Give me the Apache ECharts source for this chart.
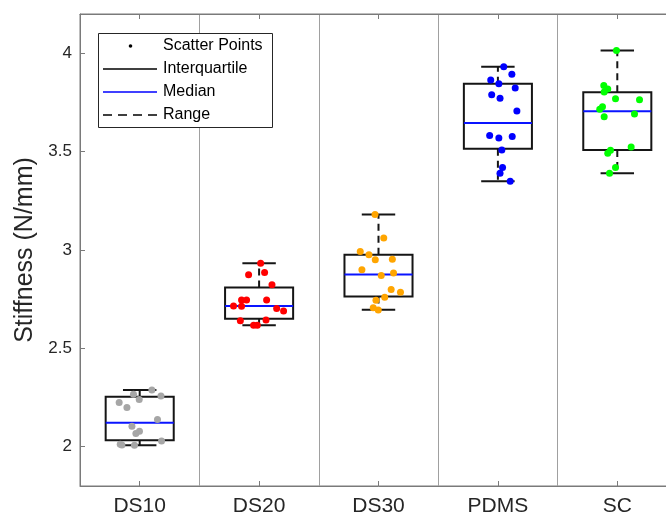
<!DOCTYPE html>
<html>
<head>
<meta charset="utf-8">
<script src="https://cdn.jsdelivr.net/npm/echarts@6/dist/echarts.min.js"></script>
<style>html,body{margin:0;padding:0;background:#fff;overflow:hidden}#c{width:677px;height:525px}</style>
</head>
<body>
<div id="c"></div>
<script>
// ---- data ----
const categories = ['DS10', 'DS20', 'DS30', 'PDMS', 'SC'];
const yTicks = [2, 2.5, 3, 3.5, 4];
// box stats: [min, q1, median, q3, max]
const ds10Stats = [2.007, 2.033, 2.121, 2.254, 2.288];
const ds20Stats = [2.618, 2.651, 2.715, 2.809, 2.933];
const ds30Stats = [2.696, 2.763, 2.876, 2.976, 3.180];
const pdmsStats = [3.350, 3.515, 3.646, 3.845, 3.932];
const scStats   = [3.390, 3.509, 3.705, 3.802, 4.014];
// scatter values
const ds10Values = [2.288, 2.266, 2.257, 2.240, 2.225, 2.199, 2.138, 2.104, 2.079, 2.067, 2.029, 2.012, 2.009, 2.007];
const ds20Values = [2.933, 2.885, 2.874, 2.823, 2.746, 2.746, 2.746, 2.715, 2.714, 2.702, 2.690, 2.640, 2.644, 2.618, 2.618];
const ds30Values = [3.180, 3.061, 2.993, 2.976, 2.950, 2.953, 2.900, 2.883, 2.870, 2.799, 2.785, 2.760, 2.744, 2.706, 2.695];
const pdmsValues = [3.932, 3.894, 3.865, 3.845, 3.824, 3.789, 3.772, 3.707, 3.582, 3.570, 3.577, 3.508, 3.419, 3.390, 3.350];
const scValues   = [4.014, 3.837, 3.819, 3.803, 3.769, 3.764, 3.728, 3.716, 3.691, 3.677, 3.524, 3.507, 3.492, 3.419, 3.390];
// horizontal jitter (in category units)
const ds10Jitter = [0.102, -0.052, 0.178, -0.004, -0.172, -0.107, 0.149, -0.065, -0.002, -0.032, 0.183, -0.163, -0.149, -0.044];
const ds20Jitter = [0.013, 0.046, -0.088, 0.108, -0.147, -0.105, 0.063, -0.214, -0.147, 0.147, 0.205, -0.157, 0.058, -0.046, -0.015];
const ds30Jitter = [-0.029, 0.044, -0.153, -0.080, -0.027, 0.116, -0.139, 0.126, 0.023, 0.106, 0.184, 0.052, -0.021, -0.044, -0.002];
const pdmsJitter = [0.049, 0.117, -0.060, 0.008, 0.145, -0.052, 0.018, 0.159, -0.069, 0.008, 0.120, 0.033, 0.039, 0.018, 0.103];
const scJitter   = [-0.007, -0.113, -0.080, -0.110, -0.015, 0.186, -0.124, -0.147, 0.144, -0.110, 0.116, -0.057, -0.080, -0.015, -0.065];
const legendLabels = ['Scatter Points', 'Interquartile', 'Median', 'Range'];
const yName = 'Stiffness (N/mm)';

// ---- build ----
const allStats = [ds10Stats, ds20Stats, ds30Stats, pdmsStats, scStats];
const allValues = [ds10Values, ds20Values, ds30Values, pdmsValues, scValues];
const allJitter = [ds10Jitter, ds20Jitter, ds30Jitter, pdmsJitter, scJitter];
const pointColors = ['#a6a6a6', '#ff0000', '#ffa500', '#0000ff', '#00ff00'];
const axisColor = '#7a7a7a';
const textColor = '#262626';
const font = 'Liberation Sans, Arial, Helvetica, sans-serif';

const boxData = allStats.map((s, i) => [i].concat(s));

function renderBox(params, api) {
  const i = api.value(0);
  const mn = api.value(1), q1 = api.value(2), md = api.value(3), q3 = api.value(4), mx = api.value(5);
  const unit = api.size([1, 0])[0];
  const bw = unit * 0.57, cw = unit * 0.28;
  const cx = api.coord([i, md])[0];
  const yMn = api.coord([i, mn])[1], yQ1 = api.coord([i, q1])[1], yMd = api.coord([i, md])[1];
  const yQ3 = api.coord([i, q3])[1], yMx = api.coord([i, mx])[1];
  const solid = { stroke: '#151515', lineWidth: 2, fill: null };
  const dashed = { stroke: '#151515', lineWidth: 2, lineDash: [7, 5], fill: null };
  return {
    type: 'group',
    children: [
      { type: 'line', shape: { x1: cx, y1: yQ3, x2: cx, y2: yMx }, style: dashed },
      { type: 'line', shape: { x1: cx, y1: yQ1, x2: cx, y2: yMn }, style: dashed },
      { type: 'line', shape: { x1: cx - cw / 2, y1: yMx, x2: cx + cw / 2, y2: yMx }, style: solid },
      { type: 'line', shape: { x1: cx - cw / 2, y1: yMn, x2: cx + cw / 2, y2: yMn }, style: solid },
      { type: 'rect', shape: { x: cx - bw / 2, y: yQ3, width: bw, height: yQ1 - yQ3 }, style: solid },
      { type: 'line', shape: { x1: cx - bw / 2, y1: yMd, x2: cx + bw / 2, y2: yMd }, style: { stroke: '#0a14ff', lineWidth: 2 } }
    ]
  };
}

const scatterSeries = allValues.map((vals, i) => ({
  type: 'scatter',
  name: categories[i],
  xAxisIndex: 2,
  yAxisIndex: 0,
  symbolSize: 7,
  z: 5,
  itemStyle: { color: pointColors[i], opacity: 1 },
  data: vals.map((v, k) => [i + allJitter[i][k], v])
}));

// legend geometry
const lgX = 98, lgY = 33, lgW = 174, lgH = 94;
const rowY = [46, 69, 92, 115];
const legendGraphic = [
  { type: 'rect', shape: { x: lgX + 0.5, y: lgY + 0.5, width: lgW, height: lgH }, style: { fill: '#fff', stroke: '#262626', lineWidth: 1 }, z: 100 },
  { type: 'circle', shape: { cx: 130.5, cy: rowY[0], r: 1.8 }, style: { fill: '#000' }, z: 101 },
  { type: 'line', shape: { x1: 103, y1: rowY[1], x2: 157, y2: rowY[1] }, style: { stroke: '#000', lineWidth: 1.6 }, z: 101 },
  { type: 'line', shape: { x1: 103, y1: rowY[2], x2: 157, y2: rowY[2] }, style: { stroke: '#0000ff', lineWidth: 1.6 }, z: 101 },
  { type: 'line', shape: { x1: 103, y1: rowY[3], x2: 157, y2: rowY[3] }, style: { stroke: '#000', lineWidth: 1.6, lineDash: [9, 6] }, z: 101 }
].concat(legendLabels.map((t, k) => ({
  type: 'text', x: 163, y: rowY[k], z: 101,
  style: { text: t, fill: '#000', font: '16px ' + font, textVerticalAlign: 'middle', verticalAlign: 'middle' }
})));

const chart = echarts.init(document.getElementById('c'), null, { renderer: 'canvas' });
chart.setOption({
  animation: false,
  backgroundColor: '#ffffff',
  grid: { left: 80, top: 14, right: 0, bottom: 39, containLabel: false, show: true, borderColor: axisColor, borderWidth: 1 },
  xAxis: [
    {
      type: 'category', data: categories, position: 'bottom', boundaryGap: true,
      axisLine: { show: true, onZero: false, lineStyle: { color: axisColor, width: 1 } },
      axisTick: { show: true, inside: true, alignWithLabel: true, length: 5, lineStyle: { color: axisColor } },
      axisLabel: { color: textColor, fontSize: 21, fontFamily: font, margin: 10 },
      splitLine: { show: true, lineStyle: { color: '#a0a0a0', width: 1 } }
    },
    {
      type: 'category', data: categories, position: 'top', boundaryGap: true,
      axisLine: { show: true, onZero: false, lineStyle: { color: axisColor, width: 1 } },
      axisTick: { show: true, inside: true, alignWithLabel: true, length: 5, lineStyle: { color: axisColor } },
      axisLabel: { show: false },
      splitLine: { show: false }
    },
    {
      type: 'value', min: -0.5, max: 4.5, show: false, position: 'bottom',
      axisLine: { show: false, onZero: false }, splitLine: { show: false }
    }
  ],
  yAxis: [
    {
      type: 'value', min: 1.8, max: 4.2, position: 'left',
      name: yName, nameLocation: 'middle', nameGap: 41,
      nameTextStyle: { color: textColor, fontSize: 25, fontFamily: font },
      axisLine: { show: true, onZero: false, lineStyle: { color: axisColor, width: 1 } },
      axisTick: { show: true, inside: true, length: 5, customValues: yTicks, lineStyle: { color: axisColor } },
      axisLabel: { color: textColor, fontSize: 17, fontFamily: font, margin: 8, customValues: yTicks,
        formatter: v => String(v) },
      splitLine: { show: false }
    }
  ],
  series: [
    { type: 'custom', xAxisIndex: 2, yAxisIndex: 0, renderItem: renderBox, data: boxData, z: 3, clip: false }
  ].concat(scatterSeries),
  graphic: legendGraphic
});
</script>
</body>
</html>
